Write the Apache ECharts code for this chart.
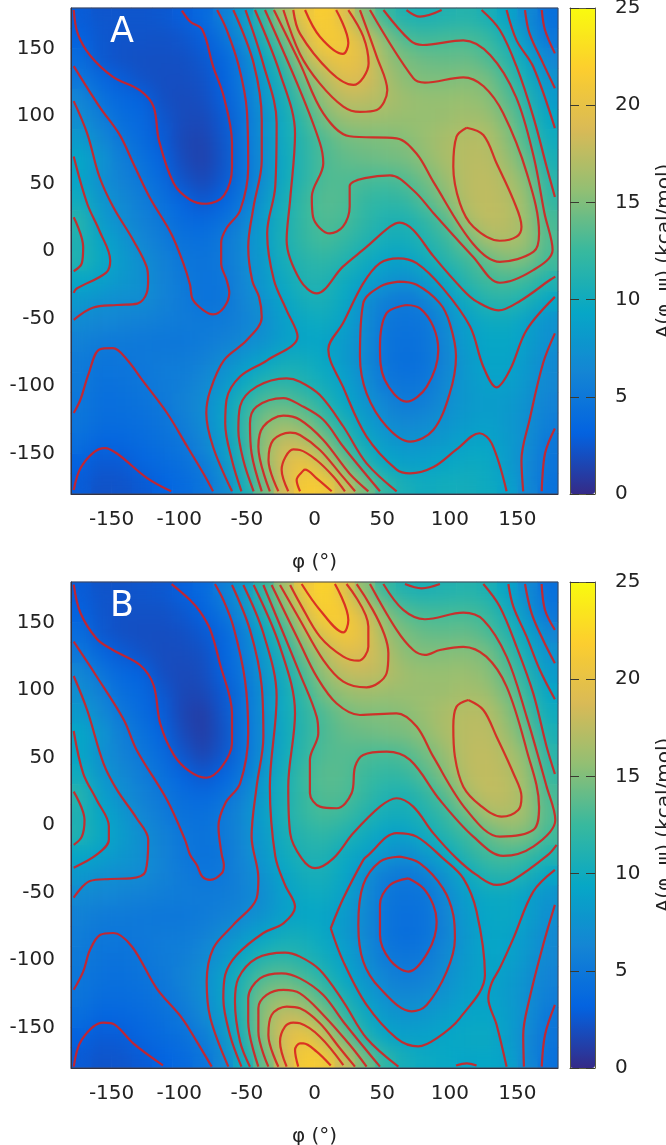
<!DOCTYPE html>
<html><head><meta charset="utf-8">
<style>html,body{margin:0;padding:0;background:#fff}#c{width:666px;height:1145px}</style>
<script src="https://cdn.jsdelivr.net/npm/echarts@6/dist/echarts.min.js"></script>
</head><body><div id="c"></div>
<script>
const phiBins=[-172.5,-157.5,-142.5,-127.5,-112.5,-97.5,-82.5,-67.5,-52.5,-37.5,-22.5,-7.5,7.5,22.5,37.5,52.5,67.5,82.5,97.5,112.5,127.5,142.5,157.5,172.5];
const psiBins=[172.5,157.5,142.5,127.5,112.5,97.5,82.5,67.5,52.5,37.5,22.5,7.5,-7.5,-22.5,-37.5,-52.5,-67.5,-82.5,-97.5,-112.5,-127.5,-142.5,-157.5,-172.5];
const tickValues=[-150,-100,-50,0,50,100,150];
const barTicks=[0,5,10,15,20,25];
const paletteStops=['#352a87','#0363e1','#1485d4','#06a7c6','#38b99e','#92bf73','#d9ba56','#fcce2e','#f9fb0e'];
const energyA=[
[2.8,2.4,2.4,2.4,2.5,2.9,3.7,5.6,8.2,12.2,16.8,20.4,21.8,19.4,15.2,12.4,11,10.8,11.1,11.4,10.7,9.2,6.6,4.3],
[3.1,2.5,2.3,2.3,2.2,2.4,2.9,4.5,7,11,14.3,18.8,21.5,21,18.5,15.2,13.1,12.7,12.9,13,12.5,10.4,7.6,4.9],
[4,2.5,2.2,2.1,2.1,2.1,2.5,3.5,5.5,9.5,12.6,17.2,19.8,20.5,19.4,16,14.8,14.2,14,14.2,13.3,11.6,9.2,6.3],
[4.9,3.6,2.8,2.2,2,2,2.2,3.1,5.3,8.4,11.1,14.6,17.3,19.3,18.8,16.8,15.3,14.9,14.9,15.1,14.8,12.8,10.2,7.5],
[6.3,4.5,3.7,3.1,2.1,1.8,2,2.9,4.9,7.7,10.4,13.3,16,17.6,17.5,16.9,16.1,15.8,15.8,15.9,15.4,13.7,11.2,8.3],
[7,5.6,4.1,3.7,2.5,1.8,1.7,2.6,4.6,7.3,10,12.3,14.8,16,16.2,16,15.9,15.8,16,16.4,16.2,14.8,12.2,9.3],
[8.2,6.4,5,3.9,2.8,1.6,1.4,2.4,4.6,7.3,10,11.7,13.4,14.5,14.8,14.9,15.2,16,16.7,17.2,17.1,15.4,13,10],
[9.4,7.6,5.6,4.5,3.2,1.8,1.2,2.3,4.5,7,9.8,11.6,13.2,13.9,14.2,14.5,14.7,15.6,16.7,17.3,17.4,16.1,14,10.6],
[9.1,7,6,5,3.8,2.3,1.6,2.5,4.4,7.1,9.9,11.6,13.3,13.3,13.1,12.9,13.4,14.5,16,17.4,17.6,16.9,15.1,11.6],
[10,7.8,6.6,5.5,4.4,3.3,2.4,3.2,5,8,10.4,12.4,13.6,13.3,12.2,11.9,12.2,13.6,15.2,17.3,17.7,17.2,15.8,12],
[11.4,8.3,7,5.9,5,3.9,3.6,4.3,5.9,8.5,10.6,12.3,13.4,13,11.9,11,10.9,11.9,13.6,16.5,17.6,17.4,16,13],
[11,9.2,7.9,6.3,5.4,4.5,4.3,5.1,6.6,8.6,10.7,12.2,12.9,12.2,11.2,10.3,10.2,11.2,12.3,14.4,16.5,16.9,16,13.3],
[11.1,9.6,8.3,7.1,5.9,5,4.6,5.1,6.5,8.2,10.4,11.5,11.9,11.2,10,9,8.9,10.1,11.5,12.6,13.9,15,14.8,12.8],
[9.4,8.7,7.9,7.3,6,5.2,4.6,4.9,6.3,8.1,9.8,11.1,11.1,9.9,8.9,7.6,7,8.2,9.6,11.6,12.7,13,12.5,11.1],
[8,7.3,7,6.9,6,5.3,4.6,4.8,6.2,7.4,9.1,10.4,10.6,9.5,7.1,5.7,5.1,5.9,8,9.9,11.3,11.5,10.7,9.3],
[6.7,6.3,6.1,5.8,5.6,5.3,5.2,5.3,5.9,7,8.6,9.6,9.9,8.9,6.9,5,4.6,4.9,6.8,8.8,9.8,9.9,8.8,7.4],
[5.9,5.3,5.2,5.1,5,5,5.3,5.8,6.5,7.4,8.6,9.2,9.1,8.2,6.7,4.8,4.3,4.7,6.4,8.5,9.3,9.4,8.6,7.2],
[5.3,4.8,4.9,5.1,5.3,5.4,5.8,6.9,8,9.2,10.2,10.2,9.5,8.2,6.6,4.8,4.1,4.6,6.2,8.1,9.1,9.2,8,6.6],
[5.2,4.4,4.6,4.9,5.4,5.6,6.4,7.6,9.5,11.2,11.6,11,10,8.8,7,5.1,4.7,5,6.6,8,8.8,8.8,7.8,6.5],
[5,4.2,4.3,4.6,5.1,5.9,6.8,8.7,11.2,13.4,13.7,12.8,11.2,9.4,7.6,6.2,5.2,5.7,6.9,8,8.4,8.2,7.3,6],
[4.8,4,4,4.2,4.7,5.5,6.7,8.8,11.8,15.1,15.9,15,12.9,10.7,8.6,7,6.4,6.8,7.5,8.2,8.7,8.1,7.1,5.6],
[4.2,3.3,3.5,3.9,4.3,4.9,6.2,8.4,11.5,15.6,18,17.6,15.2,12.2,9.9,8.3,7.6,7.8,8.3,9,9.2,8.3,7,5],
[3.1,2.6,2.7,3.4,3.9,4.3,5.3,7.5,11,15.5,19,20.5,18,14.5,11.2,9.4,8.7,8.8,9.3,9.8,9.7,8.4,6.5,4.7],
[2.8,2.2,2.3,2.6,3.2,3.9,4.6,6.4,10.2,14.2,18.6,21.4,21.1,18,14.7,11.9,10.5,10,10.2,10.3,9.9,8.9,6.5,4.5]];
const energyB=[
[2.8,2.3,2.3,2.4,2.5,3,3.8,5.6,8,12,16.5,20.8,22.3,19.6,15.3,12.3,11,10.8,11.1,11.4,10.9,9.2,6.6,4.3],
[3.1,2.4,2.2,2.2,2.2,2.5,3.1,4.6,7,11,14.5,19,22,21.3,18.5,15.2,13.3,12.8,12.8,12.9,12.4,10.3,7.5,4.8],
[4,2.5,2.1,2,2,2.1,2.6,3.6,5.5,9.4,12.5,17,20,21.2,19.8,16.2,14.8,14,13.9,14.1,13.2,11.4,9,6.2],
[4.9,3.5,2.7,2.2,1.9,1.9,2.1,3.2,5.3,8.3,11,14.6,17.4,19.4,19,17.2,15.3,15,15.1,15.2,14.8,12.7,10.1,7.4],
[6.4,4.8,3.6,3.1,2,1.7,1.9,3,4.9,7.6,10.3,13.2,15.9,17.7,17.9,17.3,16.2,15.9,15.9,16,15.4,13.6,11.1,8.2],
[7.1,5.8,4.2,3.7,2.6,1.6,1.6,2.6,4.5,7.3,9.9,12.3,14.8,15.9,16.3,16,16,16,16.1,16.5,16.2,14.7,12.1,9.2],
[8.2,6.5,5.1,3.9,2.9,1.5,1,2.4,4.5,7.2,10,11.7,13.3,14.6,15,15,15.3,16.1,16.8,17.3,17.2,15.5,13,10],
[9.4,7.7,5.7,4.5,3.3,1.8,1,2.2,4.4,7,9.8,11.7,13.2,14,14.3,14.7,14.8,15.6,16.8,17.4,17.5,16.2,14,10.7],
[9.3,7.2,6,5,3.9,2.4,1.4,2.4,4.4,7.1,10,11.9,13.4,13.5,13.2,13,13.4,14.5,16,17.5,17.7,17,15.2,11.6],
[10,7.8,6.6,5.5,4.4,3.3,2.4,3.2,5,8,10.4,12.6,13.7,13.5,12.6,12.1,12.3,13.6,15.3,17.4,17.8,17.3,15.9,12.1],
[11.4,8.6,7.1,5.9,5,4,3.6,4.3,5.9,8.5,10.6,12.4,13.5,13.3,12.2,11.2,10.9,12,13.7,16.5,17.7,17.5,16.1,13],
[11,9.3,8,6.3,5.4,4.5,4.3,5.1,6.6,8.7,10.8,12.3,13,12.5,11.3,10.3,10.2,11.1,12.3,14.4,16.5,17,16.1,13.3],
[11.1,9.6,8.4,7.1,5.9,5,4.5,5.1,6.5,8.3,10.4,11.5,11.9,11.1,10,8.9,8.8,10,11.4,12.6,13.9,15.1,14.9,12.8],
[9.4,8.7,7.9,7.2,6,5.1,4.5,4.9,6.3,8.1,9.9,11,11,9.8,8.9,7.6,6.9,8.1,9.6,11.5,12.7,13.1,12.5,11.2],
[8,7.3,7,6.8,6,5.3,4.9,5.1,6.1,7.4,9.1,10.3,10.5,9.4,7.1,5.6,5,5.7,7.6,9.7,11.2,11.5,10.6,9.3],
[6.7,6.3,6.1,5.8,5.6,5.4,5.3,5.4,5.9,7,8.7,9.7,9.9,8.8,6.8,5,4.5,4.8,6.5,8.6,9.6,9.7,8.7,7.5],
[5.9,5.3,5.2,5.1,5,5,5.3,5.8,6.5,7.5,8.7,9.3,9.2,8.2,6.6,4.8,4.2,4.6,6.2,8.3,9.4,9.6,8.8,7.1],
[5.5,5,5,5.1,5.3,5.4,5.8,6.9,8,9.2,10.2,10.2,9.5,8.1,6.5,4.8,4.1,4.6,6.1,8,9.2,9.2,8.1,6.6],
[5.2,4.7,4.6,4.9,5.4,5.6,6.4,7.7,9.5,11.2,11.6,11,10,8.8,6.9,5.2,4.8,5.2,6.6,8.2,9.2,9,7.8,6.4],
[5,4.4,4.3,4.6,5.1,5.9,6.9,8.8,11,13.3,13.7,12.8,11.2,9.4,7.6,6.1,5.4,5.8,7.1,8.4,9.1,8.5,7.3,6],
[4.7,4,4,4.2,4.7,5.6,6.8,8.9,11.6,15,15.9,15,12.9,10.7,8.6,7,6.5,7,7.7,8.7,9.1,8.3,7.1,5.6],
[4.1,3.3,3.5,3.8,4.3,5,6.3,8.4,11.3,15.6,18,17.6,15.2,12.2,9.9,8.2,7.6,8,8.7,9.1,9.3,8.6,7,5],
[3.1,2.7,2.8,3.4,3.9,4.3,5.3,7.6,10.9,15.4,19.1,20.6,18,14.5,11.1,9.3,8.7,8.9,9.3,9.6,9.8,8.6,6.5,4.7],
[2.7,2.3,2.4,2.7,3.2,3.8,4.6,6.4,10,14,18.5,21.4,21.1,18,14.6,11.8,10.3,9.8,9.5,9.1,9.4,8.9,6.5,4.4]];
const contoursA=[
[[-178,178.5],[-175,161],[-166,145],[-149,129],[-129,119],[-119,107],[-115,82],[-104,50],[-92,38],[-80,35],[-67,41],[-61,62],[-61,80],[-67,114],[-75,137],[-83,164],[-92,170],[-98,178]],
[[-178,137],[-159,107],[-144,86],[-134,65],[-122,40],[-106,13],[-97,-9],[-92,-25],[-90,-36],[-82,-44],[-75,-47],[-67,-42],[-63,-31],[-65,-21.5],[-69,-9],[-69,6],[-65,17],[-55,30],[-49,62],[-50,104],[-56,137],[-65,164],[-72,178.5]],
[[-178,111],[-168,87],[-159,55],[-149,33],[-134,8],[-124,-12],[-123,-21.5],[-124,-31],[-131,-39],[-146,-40],[-164,-42],[-178,-51]],
[[-178,70],[-168,35],[-159,15],[-151,-7],[-154,-16],[-176,-28],[-178,-31]],
[[-178,25],[-171,3],[-172,-9],[-178,-15]],
[[-178,-120],[-173,-110],[-167,-91],[-159,-73],[-149,-72],[-139,-80],[-127,-96],[-109,-120],[-94,-145],[-82,-165],[-75,-178]],
[[-178,-177],[-173,-161],[-163,-149],[-155,-146],[-146,-150],[-124,-168],[-106,-178]],
[[-60,178.5],[-45,139],[-39,97],[-39,67],[-45,33],[-49,3],[-46,-22],[-41,-34],[-39,-49],[-50,-66],[-67,-81],[-77,-103],[-80,-120],[-75,-145],[-61,-178]],
[[-51,178.5],[-38,139],[-28,95],[-29,48],[-35,13],[-30,-21.5],[-20.6,-44],[-12.5,-63.5],[-35,-81],[-55,-93],[-65,-110],[-66,-128],[-61,-155],[-54,-178]],
[[-44,178.5],[-25.5,131.6],[-14.4,87],[-18,38],[-20.6,8],[-10.7,-21.5],[1.6,-31.4],[21,-11.6],[38.5,3],[55.8,18],[63,21],[73,15.5],[88,-4],[110,-29],[120,-37.5],[136,-44],[152,-37],[174,-21.5],[178,-19]],
[[-36.6,178.5],[-10.7,119],[4,80],[6.5,65],[-2,40],[-1,25],[11.4,13],[21,18],[26,33],[26,48],[55.8,56],[73,45],[88,28],[117,-4],[137,-23.5],[162,-14],[176,0.7],[170,28],[162,70],[149,114],[130,145],[110,156],[80,152.6],[70.6,156],[51,178.5]],
[[-30,178.5],[-10.75,139],[6.5,102],[26,85],[60.7,83.4],[75.5,72],[88,51],[117,5.6],[137,-8],[162,-0.5],[166,13],[157,57.5],[139.5,102],[125,122],[110,128.6],[81.6,124.7],[73,128],[41,178.5]],
[[-23,178.5],[-10.75,146],[4,124],[21.3,107],[33.6,103],[46,104.4],[53.8,119],[46,144],[33.6,178.5]],
[[-15.7,178.5],[-10.75,161],[11.4,133],[28.7,123],[40,139],[36,159],[25,178.5]],
[[-7,178.5],[4,158.7],[21,146],[25,154],[16,178.5]],
[[68,178.5],[78,173.6],[94,178.5]],
[[123.5,178.5],[137,163.7],[149.4,136.5],[161.7,99.5],[171.6,62.4],[177.7,40]],
[[142,178.5],[149.4,156],[161.7,136.5],[177.7,91]],
[[155.6,178.5],[159,161],[169,139],[177.7,120.5]],
[[168,178.5],[170.4,163.7],[177.7,146.4]],
[[112.5,91.3],[124.8,85.9],[134.6,65],[147,37.8],[153,18],[149.4,10.6],[137,7.6],[117.4,18],[107.5,35.3],[102.6,62.4],[105,84.7],[112.5,91.3]],
[[142,-178],[131,-142.5],[122,-135],[105,-147],[88,-160],[70.6,-164.7],[60.7,-162],[38.5,-137.5],[21,-100.5],[10.2,-73],[21,-53.6],[36,-24],[48.4,-9],[62,-5.4],[75.5,-9],[95,-27.7],[115,-56],[124.8,-85.7],[134.6,-101],[144.5,-88],[156.8,-58.5],[177.7,-34]],
[[62,-22.7],[75.5,-25],[92.7,-38.8],[100,-53.6],[104.6,-78],[100,-105.4],[87.8,-132.6],[70.6,-141.2],[53.3,-130],[38.5,-105.4],[33.6,-78],[36,-38.8],[48.4,-26.4],[62,-22.7]],
[[68,-40],[78,-42.5],[87.8,-56],[91.5,-73.4],[83,-100.5],[68,-111.6],[52,-95.6],[48.4,-70.9],[53.3,-46],[68,-40]],
[[177.7,-61],[169,-83],[159,-125],[153,-155],[154.3,-178]],
[[177.7,-131.4],[170.4,-150],[168,-178]],
[[-45,-178],[-52.6,-155],[-56.3,-132.6],[-55,-115],[-42.8,-100.5],[-20.6,-94.3],[-10.75,-96.8],[4,-106.7],[21.3,-130],[38.5,-157.3],[60.7,-178]],
[[-39,-178],[-46.5,-150],[-47.7,-127.7],[-42.8,-115.3],[-23,-109],[-10.75,-114],[6.5,-125],[21.3,-145],[48.4,-178]],
[[-33,-178],[-41.5,-145],[-37.8,-130],[-23,-122],[-10.75,-125],[6.5,-140],[26,-165],[39.8,-178]],
[[-26.7,-178],[-34,-155],[-30.5,-140],[-18,-134.6],[-10.75,-136.3],[4,-147.4],[18.8,-164.7],[30,-178]],
[[-19.4,-178],[-24.3,-162],[-15.7,-147],[-10.75,-147.4],[1.6,-155],[13.9,-167],[22.5,-178]],
[[-10.7,-178],[-13.2,-169.6],[-8.3,-162.7],[-7,-162],[1.6,-168.4],[12.7,-178]]];
const contoursB=[
[[-178,178],[-173,157],[-161,138],[-149,129.6],[-129,118.5],[-119,103.7],[-114,75],[-104,52],[-92,39.5],[-80,35],[-68.6,43],[-61,60.5],[-61,82.7],[-70,119.8],[-77,144.5],[-84.6,158],[-92,166.7],[-105.6,178.5]],
[[-178,135.8],[-161,110],[-141,78],[-131.5,55.6],[-109,18.5],[-95.7,-11],[-92,-22],[-87,-29.6],[-83,-38.2],[-77,-40.7],[-68.6,-35.8],[-67,-29.6],[-68.6,-22],[-71,-1.2],[-66,16],[-55,30.9],[-49,67.9],[-51.4,107.4],[-60,147],[-67.4,166.7],[-73.6,178.5]],
[[-178,110.4],[-168,85],[-156,45.7],[-146,26],[-131.5,5],[-122.9,-11],[-125,-34.5],[-136,-39.5],[-151,-40],[-166,-41.5],[-178,-53.8]],
[[-178,69.6],[-171,38.3],[-161,18.5],[-152,-1],[-152,-11],[-161,-22],[-178,-31.6]],
[[-178,24.7],[-170,3.7],[-172,-8.6],[-178,-14.8]],
[[-178,-122],[-171,-108.6],[-166,-92.6],[-158.6,-81.5],[-148.7,-80],[-135,-90],[-116.7,-121],[-98,-143],[-87,-160.5],[-76,-179]],
[[-178,-179],[-172,-159],[-156,-146.4],[-147.5,-148],[-134,-161.7],[-112,-178]],
[[-61,177.8],[-47.7,144.5],[-39,102.5],[-37.8,65.4],[-42.8,28.4],[-46.5,-8.6],[-41.5,-39.5],[-42.8,-54.3],[-60,-74],[-74.8,-91.3],[-79.7,-116],[-77,-143],[-63.7,-179]],
[[-52.6,177.8],[-37.8,142],[-28,95],[-33,28.4],[-29,-23],[-21.8,-44.4],[-14.4,-60.5],[-23,-72.8],[-37.8,-80],[-57.5,-96.3],[-66,-111],[-67.4,-128.4],[-62.5,-155.5],[-54,-179]],
[[-45,177.8],[-25.5,132],[-14.4,82.7],[-19.4,28.4],[-18,-6],[-9.5,-24.7],[0.4,-32],[13.9,-24.7],[28.7,-6],[48.4,13.6],[60.7,19.8],[73,13.6],[87.8,-6],[105,-24.7],[119.8,-37],[134.6,-44.4],[147,-40.7],[172.8,-22],[179,-14.8]],
[[-37.8,177.8],[-10.75,112],[1.6,80.3],[2.8,67.9],[-3.4,48.2],[-3.4,23.5],[4,13.6],[16.4,12.4],[27.4,23.5],[30,43.2],[36,51.9],[53.3,54.3],[70.6,48.2],[92.7,18.5],[117.4,-8.6],[139.5,-22.9],[161.7,-16],[178,3.7],[171.6,28.4],[156.8,80.3],[142,124.7],[124.8,151.9],[110,157.3],[81.6,152.4],[65.6,159.3],[50.9,178.5]],
[[-31.7,177.8],[-10.75,134.6],[1.6,109.9],[16.4,90],[33.6,81.5],[60.7,82.7],[75.5,72.9],[87.8,50.6],[112.5,11],[137,-8.6],[161.7,-3.7],[166,13.6],[156.8,55.6],[142,102.5],[127,124.7],[110,132],[92.7,129.6],[81.6,126],[73,129.6],[60.7,144.5],[41,178.5]],
[[-25.5,177.8],[-10.75,151.9],[6.5,122.2],[21.3,106.2],[38.5,102],[53.3,112.4],[54.6,127.2],[31.2,178.5]],
[[-18,177.8],[-10.75,164.2],[4,139.5],[21.3,124.7],[32.4,121.7],[39.8,132],[39.8,147],[23.7,178.5]],
[[-9.5,178.5],[4,159.3],[21.3,142.7],[25,151.9],[15.1,178.5]],
[[66.9,178.5],[79.2,175.3],[92.7,178.5]],
[[124.8,178.5],[137,161.7],[149.4,132],[161.7,97.5],[171.6,58],[177.7,37.8]],
[[143.3,178.5],[147,161.7],[156.8,139.5],[166.6,114.8],[177.7,93.1]],
[[155.6,178.5],[160.5,156.8],[169,137],[177.7,119.8]],
[[167.9,178.5],[170.4,159.3],[177.7,144.5]],
[[113.7,92.6],[124.8,85.2],[134.6,65.4],[147,38.3],[153,21],[150.6,11.1],[138.3,6.2],[122.3,14.8],[110,28.4],[103.8,50.6],[102.6,72.9],[105,87.7],[113.7,92.6]],
[[12,-76.5],[21.3,-54.3],[36,-26],[38.5,-23.4],[60.7,-6],[75.5,-8.6],[95,-24.7],[110,-39.5],[119.8,-64],[126,-111],[107.5,-143],[90.3,-158],[76.7,-164],[60.7,-158],[38.5,-133.3],[21.3,-101.2],[12,-76.5]],
[[63.2,-23.4],[78,-28.4],[95,-46.9],[102.6,-66.6],[103.8,-84],[97.7,-108.6],[82.9,-133.3],[71.8,-138],[48.4,-121],[36,-101],[32.4,-74],[36,-44.4],[48.4,-27.1],[63.2,-23.4]],
[[69.3,-39.5],[80.4,-46.9],[87.8,-59.2],[90.3,-71.6],[84,-93.8],[69.3,-108.6],[55.8,-100],[48.4,-81.5],[48.4,-59.2],[55.8,-44.4],[69.3,-39.5]],
[[104.6,-178.2],[112.5,-176.5],[119.8,-178.2]],
[[177.7,-33.3],[161.7,-49.4],[147,-84],[137,-106],[131,-117],[128.5,-128.4],[134.6,-148],[142,-179]],
[[177.7,-59.2],[169,-88.9],[159,-128.4],[154.3,-155.5],[154.8,-179]],
[[177.7,-133.3],[170.4,-155.5],[168,-179]],
[[-47.7,-179],[-55,-160.5],[-58.8,-130.8],[-56.3,-113.6],[-42.8,-98.7],[-21.8,-94.5],[-10.75,-97.5],[4,-107.4],[21.3,-130.8],[38.5,-158],[62,-179]],
[[-41.5,-179],[-49,-145.7],[-49,-128.4],[-40.3,-113.6],[-24.3,-109.9],[-10.75,-113.6],[6.5,-125.9],[21.3,-145.7],[48.4,-179]],
[[-34.1,-179],[-41.5,-153],[-41.5,-135.8],[-35.4,-125.9],[-23,-122.2],[-10.75,-124.7],[6.5,-140.7],[26.2,-163],[38.5,-179]],
[[-26.7,-179],[-34.1,-155.5],[-31.7,-140.7],[-20.6,-134.5],[-10.75,-135.8],[4,-146.9],[18.8,-165.4],[29.9,-179]],
[[-20.6,-179],[-25.5,-160.5],[-21.8,-149.4],[-15.7,-146.4],[-10.75,-146.9],[4,-156.8],[21.3,-177.8]],
[[-12,-179],[-14.4,-166.6],[-10.75,-161.7],[-8.3,-161.7],[1.6,-167.9],[12,-178.2]]];
const panelLabels=['A','B'];
const axisNameX='φ (°)', axisNameY='ψ (°)', axisNameBar='A(φ, ψ) (kcal/mol)';

const FONT='"DejaVu Sans"', TXT='#222', FS=20;
const panels=[{top:8,energy:energyA,contours:contoursA},{top:582,energy:energyB,contours:contoursB}];
const grid=[],xAxis=[],yAxis=[],series=[],visualMap=[],title=[];
const txt={fontFamily:FONT,fontSize:FS,color:TXT};
panels.forEach((p,k)=>{
  const rect={left:71,top:p.top,width:487,height:486,containLabel:false,outerBoundsMode:'none'};
  const g0=grid.length;
  grid.push({...rect,show:false});
  grid.push({...rect,show:true,backgroundColor:'transparent',borderColor:'#445',borderWidth:1,z:5});
  grid.push({left:570,top:p.top,width:25,height:486,outerBoundsMode:'none'});
  xAxis.push({gridIndex:g0,type:'category',data:phiBins,show:false});
  yAxis.push({gridIndex:g0,type:'category',data:psiBins.slice().reverse(),show:false});
  const ax={gridIndex:g0+1,type:'value',min:-180,max:180,z:6,splitLine:{show:false},
    axisLine:{show:true,onZero:false,lineStyle:{color:'#334',width:1}},axisTick:{show:false}};
  xAxis.push({...ax,name:axisNameX,nameLocation:'middle',nameGap:59,nameTextStyle:txt,
    axisLabel:{...txt,margin:16,customValues:tickValues,hideOverlap:false}});
  yAxis.push({...ax,name:axisNameY,nameLocation:'middle',nameGap:58,nameTextStyle:txt,
    axisLabel:{...txt,margin:16,customValues:tickValues,hideOverlap:false}});
  const barLine={show:true,onZero:false,lineStyle:{color:'#5a5a40',width:1}};
  xAxis.push({gridIndex:g0+2,type:'value',min:0,max:1,z:10,axisLine:barLine,axisLabel:{show:false},axisTick:{show:false},splitLine:{show:false}});
  xAxis.push({gridIndex:g0+2,type:'value',min:0,max:1,position:'top',z:10,axisLine:barLine,axisLabel:{show:false},axisTick:{show:false},splitLine:{show:false}});
  yAxis.push({gridIndex:g0+2,type:'value',min:0,max:25,interval:5,position:'right',z:10,axisLine:barLine,
    axisTick:{show:true,inside:true,length:9,lineStyle:{color:'#3a3a30',width:1}},splitLine:{show:false},
    axisLabel:{...txt,margin:20,customValues:barTicks},
    name:axisNameBar,nameLocation:'middle',nameGap:60,nameRotate:90,nameTextStyle:txt});
  yAxis.push({gridIndex:g0+2,type:'value',min:0,max:25,interval:5,position:'left',z:10,axisLine:barLine,
    axisTick:{show:true,inside:true,length:9,lineStyle:{color:'#3a3a30',width:1}},splitLine:{show:false},axisLabel:{show:false}});
  const xi=xAxis.length-4, yi=yAxis.length-4;
  const data=[];
  p.energy.forEach((row,r)=>row.forEach((v,c)=>data.push([c,psiBins.length-1-r,v])));
  const heatIndex=series.length;
  // the same cells twice: a crisp layer below, and a softened layer above it (see the canvas filter at the end)
  [-2,-1].forEach(zl=>series.push({type:'heatmap',xAxisIndex:xi,yAxisIndex:yi,data,silent:true,progressive:0,animation:false,emphasis:{disabled:true},zlevel:zl}));
  visualMap.push({type:'continuous',min:0,max:25,seriesIndex:[heatIndex,heatIndex+1],dimension:2,left:570,top:p.top,itemWidth:25,itemHeight:486,
    padding:0,calculable:false,showLabel:false,text:null,hoverLink:false,inRange:{color:paletteStops},z:4});
  p.contours.forEach(line=>{
    series.push({type:'line',xAxisIndex:xi+1,yAxisIndex:yi+1,data:line,smooth:0.35,showSymbol:false,symbol:'none',silent:true,animation:false,
      lineStyle:{color:'#d81e1e',width:2.2,opacity:0.88},z:3,clip:true});
  });
  title.push({text:panelLabels[k],left:110,top:p.top+7,textStyle:{fontFamily:FONT,fontSize:35,fontWeight:'normal',color:'#fff'},padding:0,z:8});
});
const chart=echarts.init(document.getElementById('c'),null,{renderer:'canvas'});
chart.setOption({animation:false,backgroundColor:'transparent',title,grid,xAxis,yAxis,visualMap,series});
const soft=document.querySelector('canvas[data-zr-dom-id="zr_-1"]');
if(soft){
  soft.style.filter='blur(9px)';
  soft.style.clipPath='polygon(71px 8px,558px 8px,558px 494px,71px 494px,71px 582px,558px 582px,558px 1068px,71px 1068px)';
}
</script></body></html>
